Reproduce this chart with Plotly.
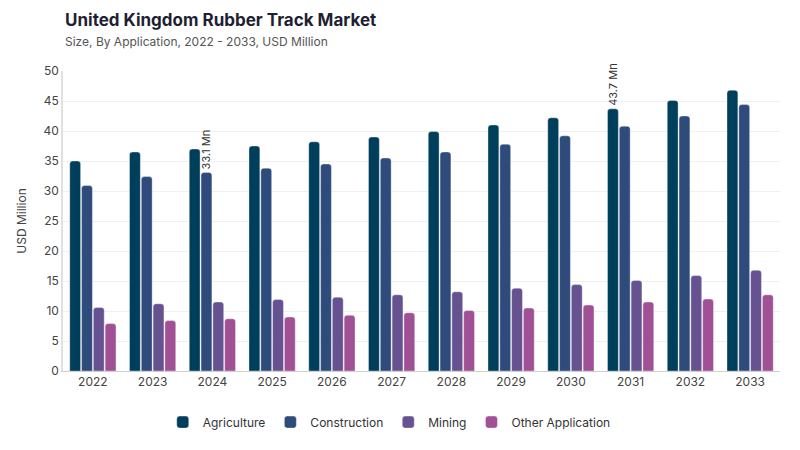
import plotly.graph_objects as go

years = ["2022", "2023", "2024", "2025", "2026", "2027", "2028", "2029", "2030", "2031", "2032", "2033"]
agriculture = [35.0, 36.5, 37.0, 37.5, 38.2, 39.0, 39.9, 41.0, 42.2, 43.7, 45.1, 46.8]
construction = [30.9, 32.4, 33.1, 33.8, 34.5, 35.5, 36.5, 37.8, 39.2, 40.8, 42.5, 44.4]
mining = [10.6, 11.2, 11.5, 11.9, 12.3, 12.7, 13.2, 13.8, 14.4, 15.1, 15.9, 16.8]
other = [7.9, 8.4, 8.7, 9.0, 9.3, 9.7, 10.1, 10.5, 11.0, 11.5, 12.0, 12.7]

series_names = ["Agriculture", "Construction", "Mining", "Other Application"]
series_values = [agriculture, construction, mining, other]
colors = ["#003f5c", "#2f4b7c", "#665191", "#a05195"]
# label callouts: (series, year)
callouts = {("Construction", "2024"), ("Agriculture", "2031")}

title_text = "United Kingdom Rubber Track Market"
subtitle_text = "Size, By Application, 2022 - 2033, USD Million"

font_family = "Inter, 'Open Sans', sans-serif"

fig = go.Figure()
for name, vals, col in zip(series_names, series_values, colors):
    texts = [f"{v:.1f} Mn" if (name, y) in callouts else "" for y, v in zip(years, vals)]
    fig.add_trace(go.Bar(
        x=years, y=vals, name=name,
        marker=dict(color=col, line=dict(width=0.6, color="rgba(255,255,255,0.6)")),
        text=texts, textposition="outside", textangle=-90,
        textfont=dict(size=11, color="#333", family=font_family),
        constraintext="none", cliponaxis=False,
        hovertemplate="%{x}: %{y}<extra>" + name + "</extra>",
    ))

fig.update_layout(
    width=800, height=450,
    margin=dict(l=63, r=20, t=71, b=79, autoexpand=False),
    paper_bgcolor="white", plot_bgcolor="white",
    barmode="group", bargap=0.21, bargroupgap=0.08, barcornerradius=3,
    font=dict(family=font_family, size=12, color="#444"),
    xaxis=dict(
        showgrid=False, showline=True, linecolor="#cfcfcf", linewidth=1,
        ticks="", tickfont=dict(size=12, color="#444"),
    ),
    yaxis=dict(
        range=[0, 50], dtick=5, showgrid=True, gridcolor="#f0f0f0",
        showline=True, linecolor="#e0e0e0", linewidth=1.5,
        zeroline=False, ticks="", tickfont=dict(size=12, color="#444"),
        title=dict(text="USD Million", font=dict(size=12, color="#444"), standoff=14),
    ),
    legend=dict(
        orientation="h", x=0.455, xanchor="center", y=-0.122, yanchor="top",
        font=dict(size=12, color="#333"), itemwidth=30,
        traceorder="normal",
    ),
    annotations=[
        dict(text=f"<b>{title_text}</b>", xref="paper", yref="paper", x=0, y=1,
             xanchor="left", yanchor="middle", yshift=51, showarrow=False,
             font=dict(size=17, color="#1f1f33", family=font_family)),
        dict(text=subtitle_text, xref="paper", yref="paper", x=0, y=1,
             xanchor="left", yanchor="middle", yshift=30, showarrow=False,
             font=dict(size=12, color="#555", family=font_family)),
    ],
)

fig.write_html("out.html")
